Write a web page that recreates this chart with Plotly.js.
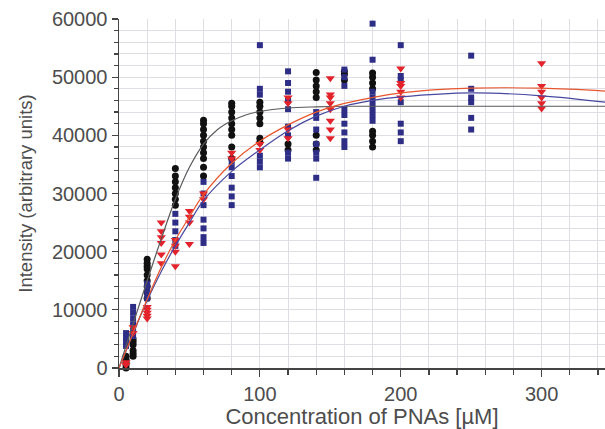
<!DOCTYPE html>
<html>
<head>
<meta charset="utf-8">
<script src="https://cdn.plot.ly/plotly-3.0.1.min.js"></script>
<style>
html,body{margin:0;padding:0;background:#fff;}
#chart{width:605px;height:429px;}
</style>
</head>
<body>
<div id="chart"></div>
<script>
// Concentrations [µM] and measured intensities per concentration
const blackConc = [5, 10, 20, 40, 60, 80, 100, 120, 140, 160, 180];
const blackVals = [
  [0, 500, 1000, 1500, 2000],
  [2000, 2500, 3000, 4000, 4500, 5000],
  [12000, 13000, 14000, 15000, 16000, 17000, 17500, 18000, 18700],
  [28000, 29000, 30000, 31000, 32000, 33000, 34300],
  [33000, 34500, 36000, 37000, 38000, 39000, 40000, 41000, 42000, 42600],
  [36000, 38000, 40000, 41000, 42000, 43000, 44000, 45000, 45500],
  [38800, 39500, 42000, 43000, 44000, 45000, 45700],
  [37500, 38500],
  [37500, 38500, 40000, 46500, 47500, 48500, 49500, 50800],
  [49500, 50500, 51000],
  [38000, 39000, 40000, 40700, 48000, 49000, 50000, 50700]
];
const blueConc = [5, 10, 20, 40, 60, 80, 100, 120, 140, 160, 180, 200, 250];
const blueVals = [
  [3800, 4500, 5200, 6000],
  [5500, 6500, 7500, 8500, 9500, 10500],
  [12000, 13000, 14000, 14500],
  [21000, 22000, 23500, 25000, 26500],
  [21500, 22500, 24000, 25500, 28000, 30000, 32000],
  [28000, 29500, 31000, 33000, 34500, 35500],
  [34500, 35500, 36500, 47000, 48000, 55500],
  [36000, 37000, 40000, 41500, 44500, 46000, 47500, 49000, 51000],
  [32700, 36000, 37000, 38500, 41000, 43000, 44000],
  [38000, 39000, 40500, 42000, 43500, 44500, 48500, 50000, 51300],
  [42500, 43500, 44500, 45500, 46500, 47500, 53000, 59200],
  [39000, 40500, 42000, 45700, 49500, 50200, 55500],
  [41000, 43000, 45700, 46500, 48000, 53700]
];
const redConc = [5, 10, 20, 30, 40, 50, 60, 80, 100, 120, 150, 200, 300];
const redVals = [
  [500, 1000],
  [6000, 7000],
  [8500, 9000, 9500, 10000, 10500],
  [18000, 19500, 21500, 22500, 23500, 25000],
  [17500, 20000, 21000, 22000],
  [21300, 25000, 26000, 27000],
  [29000, 30000],
  [36000, 37000],
  [37500, 38500],
  [39500, 41000, 45500, 46500],
  [39500, 41000, 42500, 44500, 45500, 46500, 47000, 49800],
  [46500, 47500, 48500, 49000, 51500],
  [44600, 45500, 46500, 47500, 48500, 52400]
];
// Fitted curves
const blackFitX = [0, 5, 10, 15, 20, 30, 40, 50, 60, 70, 80, 90, 100, 120, 140, 160, 200, 250, 300, 345];
const blackFitY = [0, 3800, 7600, 11300, 15000, 22200, 29000, 34500, 38500, 41000, 42500, 43500, 44100, 44700, 44900, 45000, 45000, 45000, 45000, 45000];
const blueFitX = [0, 10, 20, 30, 40, 50, 60, 80, 100, 120, 140, 160, 180, 200, 250, 300, 345];
const blueFitY = [0, 5900, 11600, 16600, 21000, 25000, 28800, 33800, 37500, 40800, 43300, 45000, 46000, 46600, 47300, 46800, 45700];
const redFitX = [0, 10, 20, 30, 40, 50, 60, 80, 100, 120, 140, 160, 180, 200, 250, 300, 345];
const redFitY = [0, 6000, 11800, 17300, 22000, 26000, 29800, 35200, 39000, 41800, 44000, 45500, 46500, 47300, 48100, 48100, 47600];

function flatten(conc, vals) {
  const xs = [], ys = [];
  conc.forEach((c, i) => vals[i].forEach(v => { xs.push(c); ys.push(v); }));
  return {x: xs, y: ys};
}
const b = flatten(blackConc, blackVals);
const u = flatten(blueConc, blueVals);
const r = flatten(redConc, redVals);

const traces = [
  {x: b.x, y: b.y, type: 'scatter', mode: 'markers', cliponaxis: false,
   marker: {symbol: 'circle', size: 7, color: '#111111'}},
  {x: u.x, y: u.y, type: 'scatter', mode: 'markers', cliponaxis: false,
   marker: {symbol: 'square', size: 6, color: '#2e2e86'}},
  {x: r.x, y: r.y, type: 'scatter', mode: 'markers', cliponaxis: false,
   marker: {symbol: 'triangle-down', size: 8, color: '#e3232b'}},
  {x: blackFitX, y: blackFitY, type: 'scatter', mode: 'lines',
   line: {color: '#5a5a5a', width: 1.2, shape: 'spline'}},
  {x: blueFitX, y: blueFitY, type: 'scatter', mode: 'lines',
   line: {color: '#4848a0', width: 1.2, shape: 'spline'}},
  {x: redFitX, y: redFitY, type: 'scatter', mode: 'lines',
   line: {color: '#e8562e', width: 1.2, shape: 'spline'}}
];

const fontFam = 'Liberation Sans, Arial, Helvetica, sans-serif';
const layout = {
  width: 605, height: 429,
  margin: {l: 119, r: 0, t: 19, b: 61},
  paper_bgcolor: '#ffffff', plot_bgcolor: '#ffffff',
  showlegend: false,
  font: {family: fontFam, size: 20, color: '#4d4d4d'},
  xaxis: {
    range: [0, 345], tick0: 0, dtick: 100,
    showline: true, linecolor: '#444', linewidth: 1.5,
    ticks: 'outside', ticklen: 7, tickcolor: '#444', tickwidth: 1.2,
    showgrid: true, gridcolor: '#dedee4', gridwidth: 1,
    zeroline: false,
    minor: {dtick: 20, ticks: 'outside', ticklen: 5, tickcolor: '#444', showgrid: true, gridcolor: '#dedee4', gridwidth: 1},
    tickfont: {size: 20, color: '#4d4d4d'},
    title: {text: 'Concentration of PNAs [µM]', standoff: 12, font: {size: 22, color: '#4d4d4d'}}
  },
  yaxis: {
    range: [0, 60000], tick0: 0, dtick: 10000,
    showline: true, linecolor: '#444', linewidth: 1.5,
    ticks: 'outside', ticklen: 6, tickcolor: '#444', tickwidth: 1.2,
    showgrid: true, gridcolor: '#dedee4', gridwidth: 1,
    zeroline: false,
    minor: {dtick: 2000, ticks: 'outside', ticklen: 4, tickcolor: '#444', showgrid: true, gridcolor: '#dedee4', gridwidth: 1},
    tickfont: {size: 20, color: '#4d4d4d'},
    tickformat: 'd',
    title: {text: 'Intensity (arbitrary units)', standoff: 14, font: {size: 18.5, color: '#4d4d4d'}}
  }
};

Plotly.newPlot('chart', traces, layout, {displayModeBar: false, staticPlot: true});
</script>
</body>
</html>
